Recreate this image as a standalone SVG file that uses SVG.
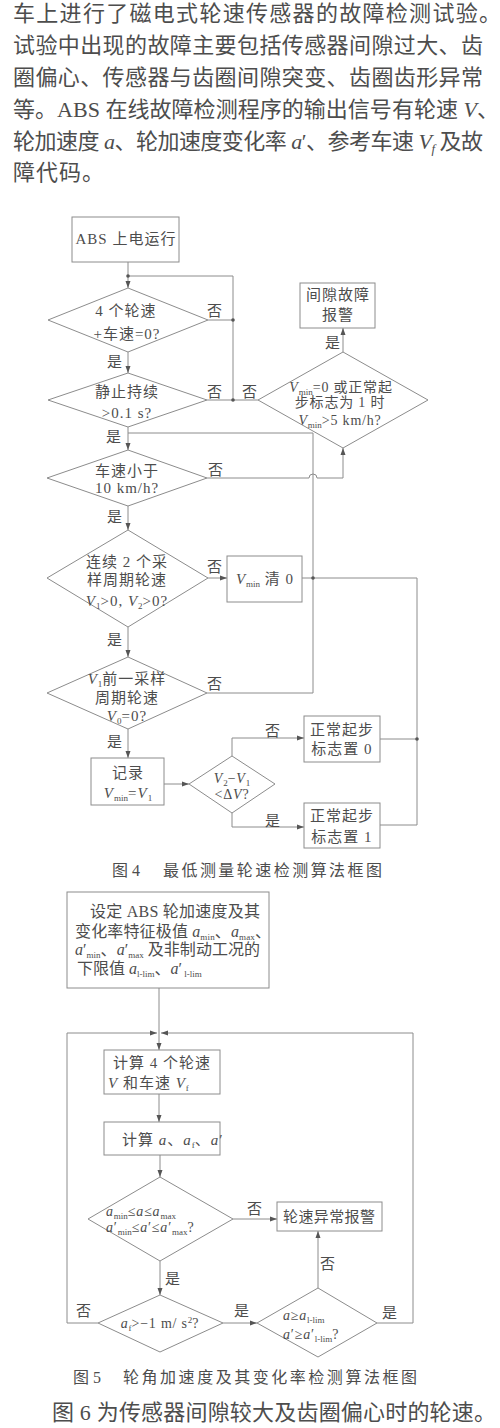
<svg xmlns="http://www.w3.org/2000/svg" width="500" height="1428" viewBox="0 0 500 1428">
<defs>
<style>
text{font-family:"Liberation Serif","Noto Sans CJK SC",serif;fill:#4d4d4d}
.p{font-size:22px}
.f{font-size:15px;letter-spacing:1px}
.s{font-size:14px;letter-spacing:0.8px}
.cap{font-size:16px}
.c{text-anchor:middle}
.i{font-style:italic}
.sb{font-size:9px;font-style:normal;letter-spacing:0}
.ln{fill:none;stroke:#8c8c8c;stroke-width:1}
.nd{fill:#fff;stroke:#8c8c8c;stroke-width:1}
.dot{fill:#555}
.ar{marker-end:url(#ah)}
</style>
<marker id="ah" viewBox="0 0 7 6" markerWidth="7" markerHeight="6" refX="7" refY="3" orient="auto" markerUnits="userSpaceOnUse"><path d="M0,0.5 L7,3 L0,5.5z" fill="#555"/></marker>
</defs>
<rect width="500" height="1428" fill="#fff"/>

<g id="para">
<text class="p" x="13" y="21" textLength="488" lengthAdjust="spacing">车上进行了磁电式轮速传感器的故障检测试验。</text>
<text class="p" x="13" y="53" textLength="470" lengthAdjust="spacing">试验中出现的故障主要包括传感器间隙过大、齿</text>
<text class="p" x="13" y="85" textLength="470" lengthAdjust="spacing">圈偏心、传感器与齿圈间隙突变、齿圈齿形异常</text>
<text class="p" x="13" y="117" textLength="486" lengthAdjust="spacing">等。ABS 在线故障检测程序的输出信号有轮速 <tspan class="i">V</tspan>、</text>
<text class="p" x="13" y="149" textLength="470" lengthAdjust="spacing">轮加速度 <tspan class="i">a</tspan>、轮加速度变化率 <tspan class="i">a</tspan>′、参考车速 <tspan class="i">V</tspan><tspan class="i" font-size="13" dy="4">f</tspan><tspan dy="-4"> 及故</tspan></text>
<text class="p" x="13" y="180" letter-spacing="1">障代码。</text>
</g>

<g id="fig4-connectors">
<path class="ln ar" d="M128,262 V288"/>
<path class="ln" d="M233,400 V276 H128"/>
<path class="ln" d="M208,320 H233"/>
<path class="ln ar" d="M128,352 V373"/>
<path class="ln" d="M207,400 H258"/>
<path class="ln ar" d="M343,352 V328"/>
<path class="ln ar" d="M128,427 V450"/>
<path class="ln ar" d="M207,478 H309 A4,4 0 0 1 317,478 H343 V448"/>
<path class="ln ar" d="M128,506 V530"/>
<path class="ln ar" d="M208,578 H227"/>
<path class="ln" d="M207,693 H313 V433 H128"/>
<path class="ln" d="M302,578 H417 V825 H380"/>
<path class="ln" d="M380,739 H417"/>
<path class="ln ar" d="M128,627 V657"/>
<path class="ln ar" d="M128,729 V758"/>
<path class="ln ar" d="M164,784 H189"/>
<path class="ln ar" d="M232,756 V738 H304"/>
<path class="ln ar" d="M232,813 V827 H304"/>
<circle class="dot" cx="128" cy="276" r="1.8"/>
<circle class="dot" cx="233" cy="320" r="1.8"/>
<circle class="dot" cx="233" cy="400" r="1.8"/>
<circle class="dot" cx="313" cy="578" r="1.8"/>
<circle class="dot" cx="417" cy="739" r="1.8"/>
<text class="f c" x="215" y="316">否</text>
<text class="f c" x="115" y="367">是</text>
<text class="f c" x="215" y="397">否</text>
<text class="f c" x="250" y="397">否</text>
<text class="f c" x="333" y="348">是</text>
<text class="f c" x="114" y="442">是</text>
<text class="f c" x="216" y="475">否</text>
<text class="f c" x="115" y="522">是</text>
<text class="f c" x="215" y="572">否</text>
<text class="f c" x="115" y="645">是</text>
<text class="f c" x="215" y="689">否</text>
<text class="f c" x="115" y="747">是</text>
<text class="f c" x="273" y="736">否</text>
<text class="f c" x="273" y="826">是</text>
</g>

<g id="n-start">
<rect class="nd" x="72" y="217" width="107" height="45"/>
<text class="f c" x="126" y="244">ABS 上电运行</text>
</g>
<g id="n-d1">
<polygon class="nd" points="128,288 208,320 128,352 48,320"/>
<text class="f c" x="126" y="316">4 个轮速</text>
<text class="f c" x="127" y="339">+车速=0?</text>
</g>
<g id="n-d2">
<polygon class="nd" points="128,373 207,400 128,427 48,400"/>
<text class="f c" x="127" y="397">静止持续</text>
<text class="f c" x="127" y="418">&gt;0.1 s?</text>
</g>
<g id="n-alarm1">
<rect class="nd" x="300" y="283" width="75" height="45"/>
<text class="f c" x="338" y="300">间隙故障</text>
<text class="f c" x="338" y="320">报警</text>
</g>
<g id="n-dr">
<polygon class="nd" points="343,352 428,400 343,448 258,400"/>
<text class="s c" x="341" y="392"><tspan class="i">V</tspan><tspan class="sb" dy="3">min</tspan><tspan dy="-3">=0 或正常起</tspan></text>
<text class="s c" x="340" y="407">步标志为 1 时</text>
<text class="s c" x="340" y="425"><tspan class="i">V</tspan><tspan class="sb" dy="3">min</tspan><tspan dy="-3">&gt;5 km/h?</tspan></text>
</g>
<g id="n-d3">
<polygon class="nd" points="128,450 207,478 128,506 47,478"/>
<text class="f c" x="127" y="476">车速小于</text>
<text class="f c" x="127" y="493">10 km/h?</text>
</g>
<g id="n-d4">
<polygon class="nd" points="128,530 208,578 128,627 47,578"/>
<text class="f c" x="127" y="567">连续 2 个采</text>
<text class="f c" x="127" y="585">样周期轮速</text>
<text class="f c" x="127" y="606"><tspan class="i">V</tspan><tspan class="sb" dy="3">1</tspan><tspan dy="-3">&gt;0, </tspan><tspan class="i">V</tspan><tspan class="sb" dy="3">2</tspan><tspan dy="-3">&gt;0?</tspan></text>
</g>
<g id="n-clear">
<rect class="nd" x="227" y="556" width="75" height="46"/>
<text class="f c" x="265" y="584"><tspan class="i">V</tspan><tspan class="sb" dy="3">min</tspan><tspan dy="-3"> 清 0</tspan></text>
</g>
<g id="n-d5">
<polygon class="nd" points="128,657 207,693 128,729 47,693"/>
<text class="f c" x="127" y="684"><tspan class="i">V</tspan><tspan class="sb" dy="3">1</tspan><tspan dy="-3">前一采样</tspan></text>
<text class="f c" x="127" y="703">周期轮速</text>
<text class="f c" x="127" y="721"><tspan class="i">V</tspan><tspan class="sb" dy="3">0</tspan><tspan dy="-3">=0?</tspan></text>
</g>
<g id="n-record">
<rect class="nd" x="91" y="758" width="73" height="47"/>
<text class="f c" x="128" y="778">记录</text>
<text class="f c" x="128" y="798"><tspan class="i">V</tspan><tspan class="sb" dy="3">min</tspan><tspan dy="-3">=</tspan><tspan class="i">V</tspan><tspan class="sb" dy="3">1</tspan></text>
</g>
<g id="n-d6">
<polygon class="nd" points="232,756 275,784 232,813 189,784"/>
<text class="s c" x="232" y="783"><tspan class="i">V</tspan><tspan class="sb" dy="3">2</tspan><tspan dy="-3">−</tspan><tspan class="i">V</tspan><tspan class="sb" dy="3">1</tspan></text>
<text class="s c" x="232" y="799">&lt;Δ<tspan class="i">V</tspan>?</text>
</g>
<g id="n-flag0">
<rect class="nd" x="304" y="716" width="76" height="46"/>
<text class="f c" x="342" y="735">正常起步</text>
<text class="f c" x="342" y="754">标志置 0</text>
</g>
<g id="n-flag1">
<rect class="nd" x="304" y="803" width="76" height="45"/>
<text class="f c" x="342" y="821">正常起步</text>
<text class="f c" x="342" y="842">标志置 1</text>
</g>
<g id="cap4">
<text class="cap" x="112" y="876">图 4</text>
<text class="cap" x="163" y="876" textLength="219" lengthAdjust="spacing">最低测量轮速检测算法框图</text>
</g>

<g id="fig5-connectors">
<path class="ln ar" d="M159,988 V1050"/>
<path class="ln ar" d="M98,1323 H67 V1033 H157"/>
<path class="ln ar" d="M377,1323 H413 V1033 H161"/>
<path class="ln ar" d="M159,1094 V1122"/>
<path class="ln ar" d="M160,1155 V1177"/>
<path class="ln ar" d="M233,1219 H277"/>
<path class="ln ar" d="M160,1261 V1295"/>
<path class="ln ar" d="M223,1323 H257"/>
<path class="ln ar" d="M318,1288 V1231"/>
<text class="f c" x="255" y="1214">否</text>
<text class="f c" x="173" y="1284">是</text>
<text class="f c" x="84" y="1316">否</text>
<text class="f c" x="242" y="1316">是</text>
<text class="f c" x="328" y="1269">否</text>
<text class="f c" x="390" y="1318">是</text>
</g>

<g id="n-set">
<rect class="nd" x="67" y="892" width="202" height="96"/>
<text class="cap" x="90" y="917" textLength="170" lengthAdjust="spacing">设定 ABS 轮加速度及其</text>
<text class="cap" x="75" y="937" textLength="196" lengthAdjust="spacing">变化率特征极值 <tspan class="i">a</tspan><tspan class="sb" dy="3">min</tspan><tspan dy="-3">、</tspan><tspan class="i">a</tspan><tspan class="sb" dy="3">max</tspan><tspan dy="-3">、</tspan></text>
<text class="cap" x="75" y="955" textLength="185" lengthAdjust="spacing"><tspan class="i">a</tspan>′<tspan class="sb" dy="3">min</tspan><tspan dy="-3">、</tspan><tspan class="i">a</tspan>′<tspan class="sb" dy="3">max</tspan><tspan dy="-3"> 及非制动工况的</tspan></text>
<text class="cap" x="77" y="974">下限值 <tspan class="i">a</tspan><tspan class="sb" dy="3">l-lim</tspan><tspan dy="-3">、</tspan><tspan class="i">a</tspan>′<tspan class="sb" dy="3"> l-lim</tspan></text>
</g>
<g id="n-calc1">
<rect class="nd" x="104" y="1050" width="116" height="44"/>
<text class="f" x="113" y="1068">计算 4 个轮速</text>
<text class="f" x="108" y="1088"><tspan class="i">V</tspan> 和车速 <tspan class="i">V</tspan><tspan class="sb i" dy="3">f</tspan></text>
</g>
<g id="n-calc2">
<rect class="nd" x="104" y="1122" width="116" height="33"/>
<text class="f" x="122" y="1145">计算 <tspan class="i">a</tspan>、<tspan class="i">a</tspan><tspan class="sb i" dy="3">f</tspan><tspan dy="-3">、</tspan><tspan class="i">a</tspan>′</text>
</g>
<g id="n-d7">
<polygon class="nd" points="160,1177 233,1219 160,1261 88,1219"/>
<text class="s" x="106" y="1216"><tspan class="i">a</tspan><tspan class="sb" dy="3">min</tspan><tspan dy="-3">≤</tspan><tspan class="i">a</tspan>≤<tspan class="i">a</tspan><tspan class="sb" dy="3">max</tspan></text>
<text class="s" x="106" y="1232"><tspan class="i">a</tspan>′<tspan class="sb" dy="3">min</tspan><tspan dy="-3">≤</tspan><tspan class="i">a</tspan>′≤<tspan class="i">a</tspan>′<tspan class="sb" dy="3">max</tspan><tspan dy="-3">?</tspan></text>
</g>
<g id="n-alarm2">
<rect class="nd" x="277" y="1202" width="105" height="29"/>
<text class="f" x="283" y="1222" textLength="93" lengthAdjust="spacing">轮速异常报警</text>
</g>
<g id="n-d8">
<polygon class="nd" points="160,1295 223,1323 160,1352 98,1323"/>
<text class="s c" x="160" y="1328"><tspan class="i">a</tspan><tspan class="sb i" dy="3">f</tspan><tspan dy="-3">&gt;−1 m/ s</tspan><tspan class="sb" dy="-5">2</tspan><tspan dy="5">?</tspan></text>
</g>
<g id="n-d9">
<polygon class="nd" points="318,1288 377,1323 318,1357 257,1323"/>
<text class="s" x="283" y="1320"><tspan class="i">a</tspan>≥<tspan class="i">a</tspan><tspan class="sb i" dy="3">l-lim</tspan></text>
<text class="s" x="283" y="1339"><tspan class="i">a</tspan>′≥<tspan class="i">a</tspan>′<tspan class="sb i" dy="3">l-lim</tspan><tspan dy="-3">?</tspan></text>
</g>
<g id="cap5">
<text class="cap" x="73" y="1383">图 5</text>
<text class="cap" x="123" y="1383" textLength="294" lengthAdjust="spacing">轮角加速度及其变化率检测算法框图</text>
</g>
<g id="para-end">
<text class="p" x="52" y="1420" textLength="444" lengthAdjust="spacing">图 6 为传感器间隙较大及齿圈偏心时的轮速。</text>
</g>
</svg>
